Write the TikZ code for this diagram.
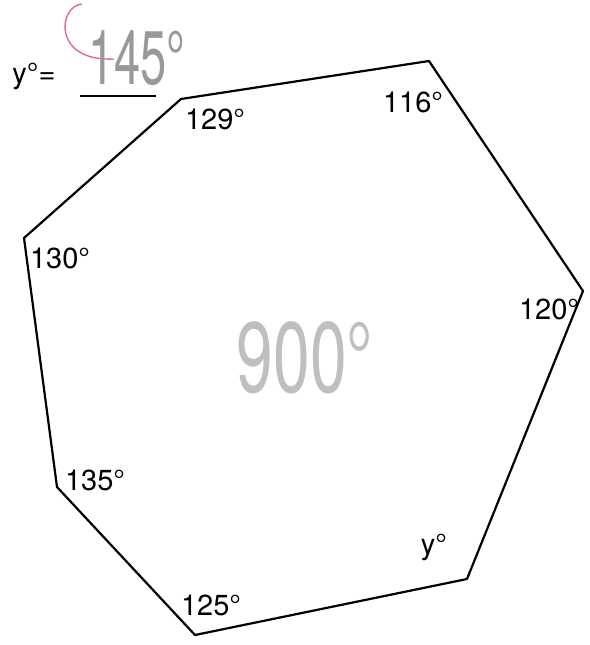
\documentclass[tikz,border=0pt]{standalone}
\usepackage{fontspec}
\setmainfont{TeX Gyre Heros}
\begin{document}
\begin{tikzpicture}[x=1pt,y=-1pt,
  lbl/.style={inner sep=0pt, font=\fontsize{29}{29}\selectfont},
  edge/.style={line width=2.2pt, line join=round, line cap=round},
  hand/.style={inner sep=0pt, text=black!38}]
\useasboundingbox (0,0) rectangle (589,645);
% polygon vertices
\coordinate (A) at (181,99);
\coordinate (B) at (429,61);
\coordinate (C) at (583,291);
\coordinate (D) at (467,579);
\coordinate (E) at (195,635);
\coordinate (F) at (57,487);
\coordinate (G) at (24,238);
\draw[edge] (A) -- (B) -- (C) -- (D) -- (E) -- (F) -- (G) -- cycle;
% angle labels
\node[lbl] (a129) at (215,119) {129°};
\node[lbl] (a116) at (413,102) {116°};
\node[lbl] (a120) at (549,309) {120°};
\node[lbl] (ay) at (434,547) {y°};
\node[lbl] (a125) at (211,605) {125°};
\node[lbl] (a135) at (95,480) {135°};
\node[lbl] (a130) at (60,258) {130°};
% answer line
\node[lbl] (yeq) at (34,76) {y°=};
\coordinate (u1) at (80,96);
\coordinate (u2) at (156,96);
\draw[line width=2.4pt] (u1) -- (u2);
% handwriting
\coordinate (r1) at (82,4);
\coordinate (r2) at (114,59);
\draw[line width=1.3pt, color={rgb,255:red,228;green,96;blue,128}] (r1) .. controls (58,6) and (52,62) .. (r2);
\node[hand, font=\fontsize{76}{76}\selectfont, xscale=0.62, text=black!40] (h145) at (137,58) {145°};
\node[hand, font=\fontsize{100}{100}\selectfont, xscale=0.66, text=black!25] (h900) at (305,358) {900°};
\end{tikzpicture}
\end{document}
